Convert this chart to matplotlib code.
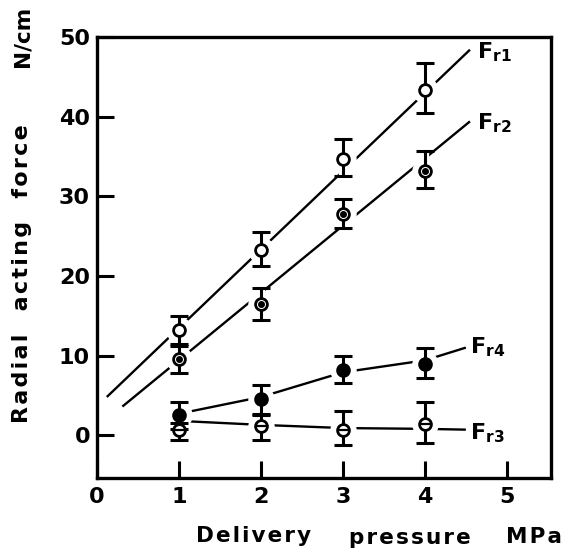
import matplotlib
matplotlib.use("Agg")
import matplotlib.pyplot as plt
import matplotlib.patheffects as pe
import numpy as np

# measured points (delivery pressure MPa -> radial acting force N/cm)
pressure = [1, 2, 3, 4]

fr1 = [13.2, 23.2, 34.7, 43.3]
fr1_lo = [11.5, 21.3, 32.6, 40.5]
fr1_hi = [15.0, 25.5, 37.2, 46.7]

fr2 = [9.6, 16.5, 27.8, 33.2]
fr2_lo = [7.8, 14.5, 26.0, 31.0]
fr2_hi = [11.2, 18.5, 29.6, 35.7]

fr3 = [0.6, 1.1, 0.6, 1.4]
fr3_lo = [-0.6, -0.6, -1.2, -1.0]
fr3_hi = [1.5, 2.7, 3.0, 4.2]

fr4 = [2.5, 4.5, 8.2, 9.0]
fr4_lo = [0.8, 2.5, 6.5, 7.2]
fr4_hi = [4.2, 6.3, 10.0, 11.0]

# drawn trend lines
fr1_line_x = [0.12, 4.55]
fr1_line_y = [4.8, 48.4]
fr2_line_x = [0.31, 4.55]
fr2_line_y = [3.6, 39.4]
fr4_line_x = [1.0, 2.0, 3.0, 4.0, 4.5]
fr4_line_y = [2.7, 4.8, 7.9, 9.4, 11.0]
fr3_line_x = [1.0, 2.0, 3.0, 4.0, 4.5]
fr3_line_y = [1.8, 1.3, 0.9, 0.8, 0.7]

plt.rcParams["font.family"] = "DejaVu Sans"
plt.rcParams["font.weight"] = "bold"
plt.rcParams["mathtext.fontset"] = "dejavusans"

fig = plt.figure(figsize=(5.67, 5.6), dpi=100)
ax = fig.add_axes([0.171, 0.146, 0.801, 0.788])

for lx, ly in [(fr1_line_x, fr1_line_y), (fr2_line_x, fr2_line_y),
               (fr4_line_x, fr4_line_y), (fr3_line_x, fr3_line_y)]:
    ax.plot(lx, ly, color="black", lw=1.7, zorder=1, solid_capstyle="butt")

bar_halo = [pe.Stroke(linewidth=6, foreground="white"), pe.Normal()]


def series(y, lo, hi, face, inner=None):
    y = np.asarray(y)
    err = [y - np.asarray(lo), np.asarray(hi) - y]
    # white disc under everything so the trend line breaks around the point
    ax.plot(pressure, y, ls="none", marker="o", ms=18, color="white", zorder=2)
    eb = ax.errorbar(pressure, y, yerr=err, fmt="none", ecolor="black",
                     elinewidth=2.2, capsize=6.5, capthick=2.2, zorder=3)
    for art in eb.lines[2]:
        art.set_path_effects(bar_halo)
    for art in eb.lines[1]:
        art.set_zorder(3.5)
    ax.plot(pressure, y, ls="none", marker="o", ms=8.5, mfc=face, mec="black",
            mew=2.0, zorder=4)
    if inner == "dot":
        ax.plot(pressure, y, ls="none", marker="o", ms=4, color="black", zorder=5)
    elif inner == "bar":
        ax.plot(pressure, y, ls="none", marker="_", ms=6.5, mew=1.6,
                color="black", zorder=5)


series(fr1, fr1_lo, fr1_hi, "white")
series(fr2, fr2_lo, fr2_hi, "white", inner="dot")
series(fr4, fr4_lo, fr4_hi, "black")
series(fr3, fr3_lo, fr3_hi, "white", inner="bar")

ax.set_xlim(0, 5.54)
ax.set_ylim(-5.4, 50)
ax.set_xticks([0, 1, 2, 3, 4, 5])
ax.set_yticks([0, 10, 20, 30, 40, 50])
ax.tick_params(direction="in", length=12, width=2.2, labelsize=16)
ax.tick_params(axis="y", pad=5)
ax.tick_params(axis="x", pad=6)
for s in ax.spines.values():
    s.set_linewidth(2.4)

lab = dict(fontsize=16, fontweight="bold", va="center", ha="left")
ax.text(4.63, 48.1, r"$\mathbf{F}_{\mathbf{r1}}$", **lab)
ax.text(4.63, 39.2, r"$\mathbf{F}_{\mathbf{r2}}$", **lab)
ax.text(4.55, 11.0, r"$\mathbf{F}_{\mathbf{r4}}$", **lab)
ax.text(4.55, 0.2, r"$\mathbf{F}_{\mathbf{r3}}$", **lab)

hs = "\u200a"
fig.text(254 / 567, 1 - 536 / 560, hs.join("Delivery"), fontsize=15.5,
         ha="center", va="center")
fig.text(410 / 567, 1 - 538 / 560, hs.join("pressure"), fontsize=15.5,
         ha="center", va="center")
fig.text(534 / 567, 1 - 537 / 560, hs.join("MPa"), fontsize=15.5,
         ha="center", va="center")
fig.text(22 / 567, 1 - 274 / 560, hs.join("Radial") + "   " + hs.join("acting")
         + "   " + hs.join("force"), fontsize=16, rotation=90,
         ha="center", va="center")
fig.text(22 / 567, 1 - 36 / 560, "N/cm", fontsize=15.5, rotation=90,
         ha="center", va="center")

fig.savefig("out.png", dpi=100)
